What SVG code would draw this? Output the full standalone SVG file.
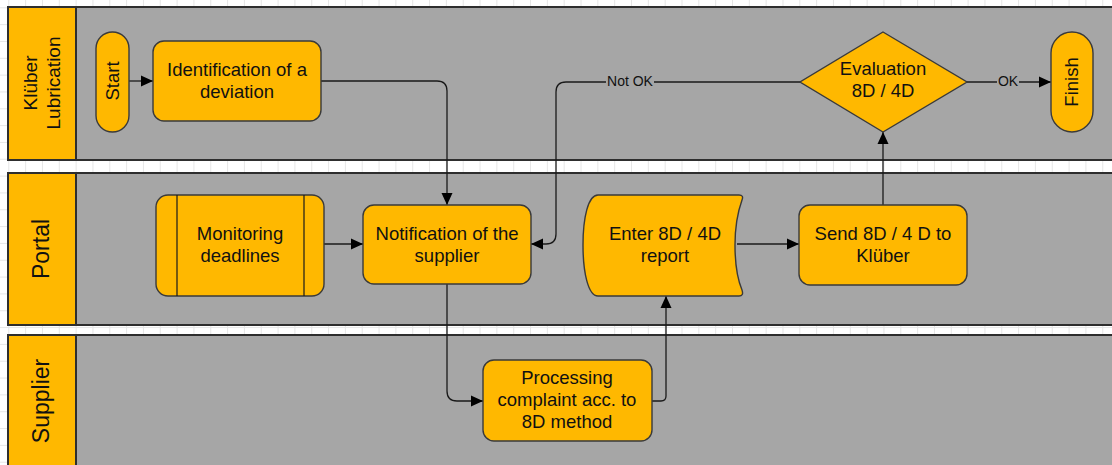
<svg xmlns="http://www.w3.org/2000/svg" width="1112" height="465" viewBox="0 0 1112 465">
<style>
.lane{fill:#A6A6A6;stroke:#2e2e2e;stroke-width:2}
.hdr{fill:#FFB800;stroke:#2e2e2e;stroke-width:2}
.node{fill:#FFB800;stroke:#3a3a3a;stroke-width:1.4}
.t{font-family:"Liberation Sans",Arial,sans-serif;font-size:18.5px;fill:#111;text-anchor:middle}
.h{font-family:"Liberation Sans",Arial,sans-serif;fill:#111;text-anchor:middle}
.lbl{font-family:"Liberation Sans",Arial,sans-serif;font-size:14px;fill:#111;text-anchor:middle}
.c{fill:none;stroke:#1a1a1a;stroke-width:1.3}
</style>
<defs>
<pattern id="grid" x="8.3" y="7.3" width="16.83" height="16.83" patternUnits="userSpaceOnUse">
<path d="M0.5 0 V16.83 M0 0.5 H16.83" stroke="#e6e6e6" stroke-width="1" fill="none"/>
</pattern>
<marker id="arr" markerUnits="userSpaceOnUse" viewBox="0 0 12 12" refX="12" refY="6" markerWidth="12" markerHeight="12" orient="auto">
<path d="M0 0.5 L12 6 L0 11.5 Z" fill="#000"/>
</marker>
</defs>
<rect width="1112" height="465" fill="#fff"/>
<rect width="1112" height="465" fill="url(#grid)"/>

<g id="lane-kluber">
<rect class="lane" x="8" y="7" width="1120" height="153"/>
<rect class="hdr" x="8" y="7" width="68" height="153"/>
<text class="h" font-size="19" transform="translate(36.5,83) rotate(-90)">Klüber</text>
<text class="h" font-size="19" transform="translate(60,83) rotate(-90)">Lubrication</text>
</g>
<g id="lane-portal">
<rect class="lane" x="8" y="173" width="1120" height="152"/>
<rect class="hdr" x="8" y="173" width="68" height="152"/>
<text class="h" font-size="23" transform="translate(49,249) rotate(-90)">Portal</text>
</g>
<g id="lane-supplier">
<rect class="lane" x="8" y="335" width="1120" height="140"/>
<rect class="hdr" x="8" y="335" width="68" height="140"/>
<text class="h" font-size="23" transform="translate(49,401) rotate(-90)">Supplier</text>
</g>

<g id="connectors">
<path class="c" d="M129 81 H153" marker-end="url(#arr)"/>
<path class="c" d="M321 81 H437 Q447 81 447 91 V205" marker-end="url(#arr)"/>
<path class="c" d="M324 244 H363" marker-end="url(#arr)"/>
<path class="c" d="M800 82 H566 Q556 82 556 92 V234 Q556 244 546 244 H531" marker-end="url(#arr)"/>
<path class="c" d="M447 284 V391 Q447 401 457 401 H483" marker-end="url(#arr)"/>
<path class="c" d="M652 401 H661 Q666 401 666 396 V296" marker-end="url(#arr)"/>
<path class="c" d="M737 244 H799" marker-end="url(#arr)"/>
<path class="c" d="M883 205 V132" marker-end="url(#arr)"/>
<path class="c" d="M967 82 H1051" marker-end="url(#arr)"/>
<rect x="606" y="74" width="48" height="15" fill="#A6A6A6"/>
<text class="lbl" x="630" y="86">Not OK</text>
<rect x="997" y="74" width="22" height="15" fill="#A6A6A6"/>
<text class="lbl" x="1008" y="86">OK</text>
</g>

<g id="start">
<rect class="node" x="96" y="32" width="33" height="100" rx="16.5"/>
<text class="t" transform="translate(118.5,81) rotate(-90)">Start</text>
</g>
<g id="identification">
<rect class="node" x="153" y="41" width="168" height="80" rx="11"/>
<text class="t" x="237" y="76">Identification of a</text>
<text class="t" x="237" y="98">deviation</text>
</g>
<g id="evaluation">
<polygon class="node" points="883,32 967,82 883,132 800,82"/>
<text class="t" x="883" y="75">Evaluation</text>
<text class="t" x="883" y="97">8D / 4D</text>
</g>
<g id="finish">
<rect class="node" x="1051" y="32" width="42" height="100" rx="21"/>
<text class="t" transform="translate(1078,82) rotate(-90)">Finish</text>
</g>
<g id="monitoring">
<rect class="node" x="156" y="195" width="168" height="101" rx="12"/>
<path d="M177 195 V296 M304 195 V296" stroke="#1a1a1a" stroke-width="1.2" fill="none"/>
<text class="t" x="240" y="240">Monitoring</text>
<text class="t" x="240" y="262">deadlines</text>
</g>
<g id="notification">
<rect class="node" x="363" y="205" width="168" height="79" rx="11"/>
<text class="t" x="447" y="240">Notification of the</text>
<text class="t" x="447" y="262">supplier</text>
</g>
<g id="enter">
<path class="node" d="M598 195 H739 Q744 195 742 200 C737 214 735 228 735 245 C735 262 737 278 742 290 Q744 296 739 296 H598 C588 296 583 272 583 245 C583 218 588 195 598 195 Z"/>
<text class="t" x="665" y="240">Enter 8D / 4D</text>
<text class="t" x="665" y="262">report</text>
</g>
<g id="send">
<rect class="node" x="799" y="205" width="168" height="80" rx="11"/>
<text class="t" x="883" y="240">Send 8D / 4 D to</text>
<text class="t" x="883" y="262">Klüber</text>
</g>
<g id="processing">
<rect class="node" x="483" y="360" width="169" height="81" rx="11"/>
<text class="t" x="567" y="384">Processing</text>
<text class="t" x="567" y="406">complaint acc. to</text>
<text class="t" x="567" y="428">8D method</text>
</g>
</svg>
